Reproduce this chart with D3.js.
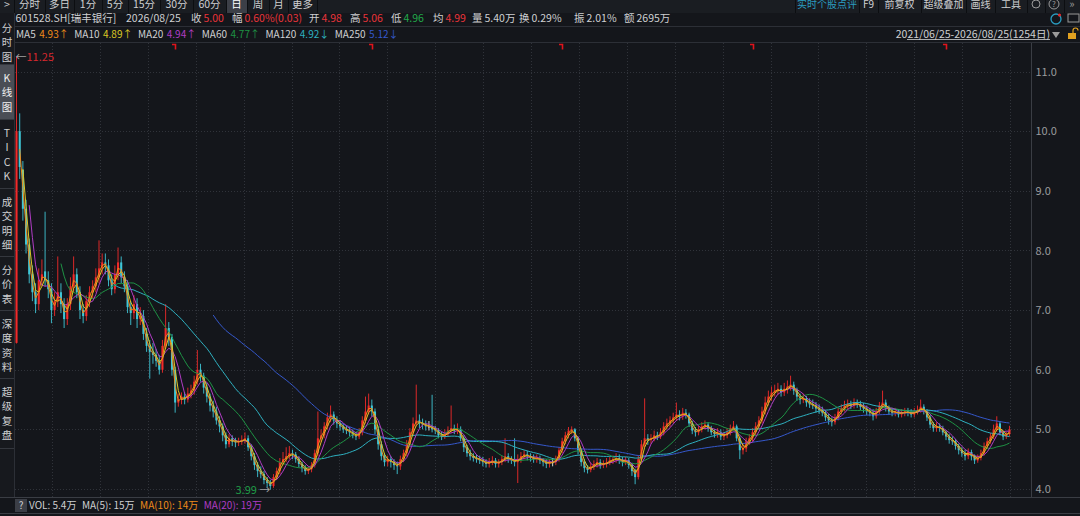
<!doctype html>
<html lang="zh">
<head>
<meta charset="utf-8">
<title>601528.SH 瑞丰银行 日K</title>
<style>
html, body { margin: 0; padding: 0; background: #14161b; }
body { width: 1080px; height: 516px; overflow: hidden; }
svg text { font-family: "Noto Sans CJK SC", "Noto Sans", sans-serif; }
</style>
</head>
<body>
<svg id="chart" width="1080" height="516"></svg>
<script src="https://d3js.org/d3.v7.min.js"></script>
<script>
// ~4 trading days per candle (2021/06/25 - 2026/08/25)
var opens = [6.45,10.0,9.35,8.7,8.1,7.6,7.3,7.1,7.5,7.65,
7.5,7.35,7.0,7.15,7.3,7.1,6.85,7.1,7.4,7.6,
7.3,7.0,6.9,7.15,7.3,7.4,7.55,7.7,7.8,7.75,
7.5,7.35,7.6,7.8,7.55,7.4,7.05,6.95,7.1,6.85,
6.9,6.6,6.4,6.3,6.25,6.15,6.0,6.4,6.7,6.55,
6.0,5.45,5.5,5.55,5.5,5.6,5.65,5.8,6.0,5.9,
5.7,5.55,5.4,5.3,5.15,5.05,4.9,4.75,4.85,4.8,
4.78,4.8,4.82,4.85,4.7,4.55,4.4,4.3,4.25,4.15,
4.1,4.05,4.2,4.3,4.45,4.5,4.55,4.6,4.58,4.5,
4.42,4.35,4.3,4.33,4.4,4.6,4.85,4.9,5.05,5.2,
5.25,5.15,5.1,5.05,5.0,4.98,4.95,4.9,4.88,4.95,
5.15,5.3,5.4,5.3,5.0,4.75,4.55,4.45,4.5,4.45,
4.4,4.38,4.5,4.6,4.75,4.95,5.1,5.15,5.1,5.08,
5.05,5.05,5.0,4.98,4.9,4.88,4.92,4.98,5.02,4.98,
5.0,4.85,4.7,4.6,4.55,4.52,4.5,4.48,4.45,4.42,
4.45,4.48,4.42,4.45,4.5,4.55,4.5,4.48,4.45,4.5,
4.55,4.58,4.55,4.52,4.5,4.52,4.48,4.45,4.42,4.45,
4.45,4.5,4.65,4.8,4.9,4.98,5.0,4.85,4.65,4.45,
4.35,4.32,4.38,4.42,4.45,4.4,4.42,4.45,4.48,4.5,
4.52,4.48,4.45,4.48,4.4,4.3,4.2,4.5,4.75,4.85,
4.82,4.85,4.9,4.88,4.95,5.05,5.1,5.15,5.2,5.25,
5.22,5.28,5.25,5.1,4.98,4.95,5.0,5.05,5.08,5.02,
4.95,4.92,4.95,4.88,4.9,4.95,5.02,5.05,4.85,4.65,
4.68,4.8,4.85,4.95,5.05,5.15,5.3,5.45,5.55,5.62,
5.65,5.68,5.62,5.68,5.72,5.75,5.65,5.55,5.5,5.52,
5.45,5.42,5.4,5.35,5.32,5.28,5.2,5.15,5.12,5.2,
5.3,5.35,5.4,5.42,5.4,5.45,5.42,5.38,5.35,5.3,
5.28,5.22,5.3,5.4,5.45,5.35,5.3,5.28,5.3,5.25,
5.28,5.3,5.28,5.25,5.3,5.32,5.38,5.3,5.2,5.08,
5.02,5.05,5.02,4.95,4.88,4.82,4.8,4.72,4.65,4.6,
4.55,4.62,4.55,4.48,4.52,4.6,4.72,4.8,4.88,5.0,
5.1,4.95,4.88,4.92];

var highs = [11.25,10.3,9.5,8.85,8.2,7.75,7.45,7.7,7.85,8.65,
7.65,7.45,7.3,7.9,7.45,7.2,7.2,7.55,7.9,7.7,
7.4,7.1,7.25,7.4,7.5,7.7,8.17,7.95,7.95,7.85,
7.6,7.75,8.05,7.9,7.65,7.5,7.15,7.25,7.2,7.05,
7.0,6.7,6.5,6.45,6.35,6.25,6.5,7.1,6.8,6.6,
6.05,5.6,5.62,5.62,5.7,5.75,5.9,6.33,6.1,5.95,
5.78,5.6,5.48,5.38,5.22,5.1,4.95,4.92,4.9,4.86,
4.86,4.9,4.95,4.9,4.75,4.6,4.45,4.38,4.3,4.2,
4.15,4.25,4.36,4.52,4.62,4.7,4.72,4.66,4.62,4.55,
4.46,4.4,4.38,4.45,4.66,5.3,5.0,5.12,5.28,5.4,
5.3,5.22,5.15,5.1,5.06,5.04,5.0,4.96,5.02,5.22,
5.55,5.6,5.5,5.35,5.05,4.8,4.6,4.56,4.55,4.5,
4.46,4.56,4.66,4.82,5.02,5.2,5.75,5.25,5.18,5.15,
5.14,5.58,5.06,5.02,4.96,5.0,5.05,5.4,5.08,5.1,
5.05,4.9,4.74,4.66,4.6,4.58,4.56,4.54,4.5,4.52,
4.55,4.52,4.5,4.56,4.85,4.6,4.55,4.85,4.58,4.62,
4.65,4.64,4.6,4.58,4.58,4.56,4.52,4.5,4.5,4.52,
4.56,4.7,4.86,4.96,5.04,5.05,5.02,4.88,4.68,4.5,
4.4,4.44,4.48,4.52,4.5,4.48,4.52,4.54,4.56,4.6,
4.58,4.54,4.54,4.52,4.44,4.34,4.56,4.82,5.52,4.92,
4.92,4.98,4.96,5.02,5.12,5.18,5.22,5.28,5.45,5.32,
5.36,5.34,5.28,5.14,5.04,5.06,5.12,5.15,5.12,5.06,
5.0,5.02,5.0,4.96,5.02,5.08,5.14,5.08,4.88,4.76,
4.86,4.92,5.02,5.12,5.22,5.38,5.55,5.65,5.72,5.75,
5.78,5.74,5.78,5.82,5.9,5.8,5.7,5.6,5.6,5.56,
5.52,5.5,5.46,5.42,5.38,5.32,5.26,5.2,5.26,5.36,
5.42,5.48,5.5,5.48,5.52,5.5,5.48,5.44,5.4,5.36,
5.34,5.36,5.46,5.65,5.5,5.4,5.36,5.36,5.34,5.34,
5.36,5.36,5.34,5.36,5.4,5.5,5.42,5.34,5.24,5.12,
5.12,5.1,5.06,4.98,4.92,4.88,4.84,4.76,4.7,4.66,
4.68,4.66,4.58,4.58,4.66,4.78,4.86,4.94,5.08,5.22,
5.14,4.98,4.96,5.06];

var lows = [6.44,9.2,8.5,7.95,7.45,7.15,6.95,7.0,7.4,7.4,
7.2,6.78,6.9,7.05,6.95,6.7,6.75,7.0,7.3,7.2,
6.85,6.78,6.82,7.05,7.2,7.3,7.45,7.6,7.6,7.4,
7.25,7.28,7.5,7.45,7.3,6.95,6.75,6.85,6.7,6.75,
6.5,6.3,5.85,6.1,6.05,5.92,5.95,6.35,6.4,5.9,
5.28,5.38,5.42,5.42,5.45,5.52,5.58,5.75,5.8,5.6,
5.45,5.3,5.2,5.08,4.95,4.8,4.68,4.7,4.72,4.7,
4.72,4.74,4.76,4.64,4.48,4.32,4.2,4.18,4.08,4.03,
3.99,4.02,4.15,4.25,4.4,4.45,4.5,4.5,4.44,4.36,
4.28,4.24,4.25,4.28,4.36,4.55,4.78,4.85,5.0,5.12,
5.08,5.02,4.98,4.94,4.92,4.88,4.85,4.82,4.84,4.9,
5.1,5.25,5.22,4.92,4.66,4.48,4.38,4.38,4.36,4.32,
4.25,4.32,4.45,4.55,4.7,4.9,5.05,5.02,5.0,4.98,
4.98,4.95,4.92,4.85,4.82,4.84,4.88,4.94,4.92,4.92,
4.8,4.62,4.54,4.48,4.46,4.44,4.42,4.38,4.36,4.36,
4.4,4.36,4.36,4.4,4.45,4.44,4.42,4.38,4.1,4.44,
4.5,4.48,4.46,4.44,4.44,4.42,4.38,4.35,4.36,4.38,
4.4,4.46,4.6,4.75,4.85,4.92,4.8,4.58,4.38,4.28,
4.26,4.28,4.32,4.36,4.34,4.35,4.36,4.4,4.42,4.44,
4.42,4.38,4.4,4.34,4.22,4.08,4.16,4.45,4.7,4.74,
4.76,4.8,4.82,4.84,4.9,5.0,5.04,5.1,5.14,5.15,
5.16,5.18,5.04,4.92,4.88,4.9,4.95,5.0,4.96,4.9,
4.86,4.86,4.82,4.82,4.85,4.9,4.98,4.8,4.5,4.58,
4.62,4.74,4.8,4.9,5.0,5.1,5.25,5.4,5.48,5.55,
5.58,5.55,5.56,5.6,5.65,5.58,5.48,5.42,5.44,5.38,
5.36,5.34,5.28,5.26,5.22,5.14,5.08,5.05,5.08,5.15,
5.25,5.3,5.34,5.34,5.35,5.36,5.32,5.28,5.24,5.22,
5.15,5.18,5.26,5.35,5.3,5.24,5.22,5.22,5.2,5.2,
5.22,5.22,5.2,5.2,5.25,5.28,5.25,5.14,5.02,4.96,
4.96,4.96,4.9,4.82,4.76,4.74,4.66,4.58,4.54,4.48,
4.5,4.48,4.42,4.44,4.48,4.56,4.68,4.76,4.84,4.96,
4.9,4.82,4.84,4.88];

var closes = [10.0,9.4,8.7,8.1,7.6,7.3,7.1,7.5,7.6,7.5,
7.35,7.0,7.15,7.3,7.1,6.85,7.1,7.4,7.6,7.3,
7.0,6.9,7.15,7.3,7.4,7.55,7.7,7.8,7.75,7.5,
7.35,7.6,7.8,7.55,7.4,7.05,6.95,7.1,6.85,6.9,
6.6,6.4,6.3,6.25,6.15,6.0,6.4,6.7,6.55,6.0,
5.45,5.5,5.55,5.5,5.6,5.65,5.8,6.0,5.9,5.7,
5.55,5.4,5.3,5.15,5.05,4.9,4.75,4.85,4.8,4.78,
4.8,4.82,4.85,4.7,4.55,4.4,4.3,4.25,4.15,4.1,
4.05,4.2,4.3,4.45,4.5,4.55,4.6,4.58,4.5,4.42,
4.35,4.3,4.33,4.4,4.6,4.85,4.9,5.05,5.2,5.25,
5.15,5.1,5.05,5.0,4.98,4.95,4.9,4.88,4.95,5.15,
5.3,5.4,5.3,5.0,4.75,4.55,4.45,4.5,4.45,4.4,
4.38,4.5,4.6,4.75,4.95,5.1,5.15,5.1,5.08,5.05,
5.05,5.0,4.98,4.9,4.88,4.92,4.98,5.02,4.98,5.0,
4.85,4.7,4.6,4.55,4.52,4.5,4.48,4.45,4.42,4.45,
4.48,4.42,4.45,4.5,4.55,4.5,4.48,4.45,4.5,4.55,
4.58,4.55,4.52,4.5,4.52,4.48,4.45,4.42,4.45,4.45,
4.5,4.65,4.8,4.9,4.98,5.0,4.85,4.65,4.45,4.35,
4.32,4.38,4.42,4.45,4.4,4.42,4.45,4.48,4.5,4.52,
4.48,4.45,4.48,4.4,4.3,4.2,4.5,4.75,4.85,4.82,
4.85,4.9,4.88,4.95,5.05,5.1,5.15,5.2,5.25,5.22,
5.28,5.25,5.1,4.98,4.95,5.0,5.05,5.08,5.02,4.95,
4.92,4.95,4.88,4.9,4.95,5.02,5.05,4.85,4.65,4.68,
4.8,4.85,4.95,5.05,5.15,5.3,5.45,5.55,5.62,5.65,
5.68,5.62,5.68,5.72,5.75,5.65,5.55,5.5,5.52,5.45,
5.42,5.4,5.35,5.32,5.28,5.2,5.15,5.12,5.2,5.3,
5.35,5.4,5.42,5.4,5.45,5.42,5.38,5.35,5.3,5.28,
5.22,5.3,5.4,5.45,5.35,5.3,5.28,5.3,5.25,5.28,
5.3,5.28,5.25,5.3,5.32,5.38,5.3,5.2,5.08,5.02,
5.05,5.02,4.95,4.88,4.82,4.8,4.72,4.65,4.6,4.55,
4.62,4.55,4.48,4.52,4.6,4.72,4.8,4.88,5.0,5.1,
4.95,4.88,4.92,5.0];

// moving averages: label, window in candles (4 days each)
var maNames = ["MA5", "MA10", "MA20", "MA60", "MA120", "MA250"];
var maWindows = [2, 3, 5, 15, 30, 63];
var maHeadValues = ["4.93", "4.89", "4.94", "4.77", "4.92", "5.12"];
var maHeadArrows = ["↑", "↑", "↑", "↑", "↓", "↓"];
var maColors = ["#ee8a1a", "#dcc624", "#b03cc4", "#1e9244", "#2eb0c0", "#3558cc"];

var priceTicks = [4, 5, 6, 7, 8, 9, 10, 11];
var eventMarks = [50, 112, 172, 232, 293];

var periodButtons = ["分时", "多日", "1分", "5分", "15分", "30分", "60分", "日", "周", "月", "更多"];
var toolButtons = ["实时个股点评", "F9", "前复权", "超级叠加", "画线", "工具"];
var sideTabs = ["分时图", "K线图", "TICK", "成交明细", "分价表", "深度资料", "超级复盘"];

var quoteLabels = ["收", "幅", "开", "高", "低", "均", "量", "换", "振", "额"];
var quoteValues = ["5.00", "0.60%(0.03)", "4.98", "5.06", "4.96", "4.99", "5.40万", "0.29%", "2.01%", "2695万"];
var quoteTone = ["up", "up", "up", "up", "down", "up", "", "", "", ""];

var volNames = ["VOL: 5.4万", "MA(5): 15万", "MA(10): 14万", "MA(20): 19万"];

var UP = "#f22a2a", DOWN = "#3fc6d6", TXT = "#cfd0d2", RED_T = "#e8343a", GREEN_T = "#22a84a";

var svg = d3.select("#chart");
svg.append("rect").attr("width", 1080).attr("height", 516).attr("fill", "#14161b");

var n = closes.length;
var x = d3.scaleBand().domain(d3.range(n)).range([15.5, 1010.5]).paddingInner(0.35);
var cx = function(i) { return x(i) + x.bandwidth() / 2; };
var y = d3.scaleLinear().domain([4, 11]).range([489, 71.6]);

// lay texts one after another, each starting after the previous one's width
function flow(g, items, x0, yb) {
  var pos = x0;
  items.forEach(function(it) {
    var t = g.append("text").attr("x", pos).attr("y", yb).attr("fill", it.c).text(it.t);
    pos += t.node().getComputedTextLength() + it.gap;
  });
}

// ---- grid ----
var grid = svg.append("g");
grid.selectAll("line.h").data(priceTicks).join("line")
    .attr("x1", 15).attr("x2", 1031)
    .attr("y1", function(d) { return Math.round(y(d)) + 0.5; })
    .attr("y2", function(d) { return Math.round(y(d)) + 0.5; })
    .attr("stroke", "#30333a").attr("stroke-dasharray", "1,2");
grid.selectAll("line.v").data(d3.range(52, 1028, 47.9)).join("line")
    .attr("x1", function(d) { return Math.round(d) + 0.5; })
    .attr("x2", function(d) { return Math.round(d) + 0.5; })
    .attr("y1", 43).attr("y2", 497)
    .attr("stroke", "#30333a").attr("stroke-dasharray", "1,2");

// ---- candles ----
svg.append("clipPath").attr("id", "plot")
  .append("rect").attr("x", 14).attr("y", 43).attr("width", 1017).attr("height", 454);
var plot = svg.append("g").attr("clip-path", "url(#plot)");

function tone(i) {
  if (closes[i] > opens[i]) return UP;
  if (closes[i] < opens[i]) return DOWN;
  return "#e6e6e6";
}
var candles = plot.append("g").selectAll("g").data(d3.range(n)).join("g");
candles.append("line")
    .attr("x1", cx).attr("x2", cx)
    .attr("y1", function(i) { return y(highs[i]); })
    .attr("y2", function(i) { return y(lows[i]); })
    .attr("stroke", tone).attr("stroke-width", 0.9);
candles.append("rect")
    .attr("x", function(i) { return x(i); })
    .attr("width", x.bandwidth())
    .attr("y", function(i) { return y(Math.max(opens[i], closes[i])); })
    .attr("height", function(i) { return Math.max(1, Math.abs(y(opens[i]) - y(closes[i]))); })
    .attr("fill", tone);

// ---- moving averages ----
function sma(arr, w) {
  return arr.map(function(_, i) { return i < w - 1 ? null : d3.mean(arr.slice(i - w + 1, i + 1)); });
}
var maLine = d3.line()
    .defined(function(d) { return d != null; })
    .x(function(d, i) { return cx(i); })
    .y(function(d) { return y(d); });
for (var j = maWindows.length - 1; j >= 0; j--) {
  plot.append("path").datum(sma(closes, maWindows[j]))
      .attr("d", maLine).attr("fill", "none")
      .attr("stroke", maColors[j]).attr("stroke-width", 1);
}

// ---- event markers at top ----
svg.append("g").selectAll("path").data(eventMarks).join("path")
    .attr("d", function(i) { var c = Math.round(cx(i)) + 0.5; return "M" + (c - 3.5) + ",44.5H" + c + "V49.5"; })
    .attr("fill", "none").attr("stroke", "#e0141c").attr("stroke-width", 1.6);

// ---- max / min labels ----
var iMax = d3.maxIndex(highs), iMin = d3.minIndex(lows);
var tMax = svg.append("text").attr("x", cx(iMax) - 1).attr("y", y(highs[iMax]) + 4)
    .attr("font-size", 11);
tMax.append("tspan").attr("fill", "#a0a0a0").text("←");
tMax.append("tspan").attr("fill", "#d8282e").text(d3.format(".2f")(highs[iMax]));
var tMin = svg.append("text").attr("x", cx(iMin)).attr("y", y(lows[iMin]) + 4)
    .attr("font-size", 11).attr("text-anchor", "end");
tMin.append("tspan").attr("fill", "#1f9a46").text(d3.format(".2f")(lows[iMin]));
tMin.append("tspan").attr("fill", "#a0a0a0").text(" →");

// ---- price axis ----
svg.append("line").attr("x1", 1031.5).attr("x2", 1031.5).attr("y1", 42).attr("y2", 497)
    .attr("stroke", "#3a3d44");
var axis = svg.append("g").attr("transform", "translate(1031.5,0)")
    .call(d3.axisRight(y).tickValues(priceTicks).tickFormat(d3.format(".1f")).tickSize(0).tickPadding(4));
axis.select(".domain").remove();
axis.selectAll("text").attr("fill", "#9a9b9e").attr("font-size", 11)
    .style("font-family", "'Noto Sans CJK SC', 'Noto Sans', sans-serif");

// ---- top toolbar (its labels sit cut at the top edge, as in the source) ----
svg.append("rect").attr("x", 0).attr("y", 0).attr("width", 1080).attr("height", 13).attr("fill", "#1a1d22");
var btnEdges = [14, 45, 74, 102, 128, 160, 193, 226, 247, 269, 288, 317];
svg.append("rect").attr("x", btnEdges[7]).attr("y", 0).attr("width", btnEdges[8] - btnEdges[7])
    .attr("height", 13).attr("fill", "#3c3f47");
svg.append("g").selectAll("line").data(btnEdges).join("line")
    .attr("x1", function(d) { return d + 0.5; }).attr("x2", function(d) { return d + 0.5; })
    .attr("y1", 0).attr("y2", 13).attr("stroke", "#0c0e11");
svg.append("text").attr("x", 4).attr("y", 8).attr("fill", TXT).attr("font-size", 10.5).text(">");
svg.append("g").selectAll("text").data(periodButtons).join("text")
    .attr("x", function(d, i) { return (btnEdges[i] + btnEdges[i + 1]) / 2; })
    .attr("y", 8).attr("text-anchor", "middle").attr("font-size", 10.5)
    .attr("fill", function(d, i) { return i === 7 ? "#ffffff" : TXT; })
    .text(function(d) { return d; });

var toolEdges = [795, 859, 878, 921, 966, 995, 1027];
svg.append("g").selectAll("line").data(toolEdges.concat([1045, 1064])).join("line")
    .attr("x1", function(d) { return d + 0.5; }).attr("x2", function(d) { return d + 0.5; })
    .attr("y1", 0).attr("y2", 13).attr("stroke", "#0c0e11");
svg.append("g").selectAll("text").data(toolButtons).join("text")
    .attr("x", function(d, i) { return (toolEdges[i] + toolEdges[i + 1]) / 2; })
    .attr("y", 8).attr("text-anchor", "middle").attr("font-size", 10)
    .attr("fill", function(d, i) { return i === 0 ? "#2a9cc0" : TXT; })
    .text(function(d) { return d; });
svg.append("circle").attr("cx", 1036).attr("cy", 4).attr("r", 4).attr("fill", "none").attr("stroke", "#9a9a9a");
svg.append("circle").attr("cx", 1054).attr("cy", 4).attr("r", 5).attr("fill", "none").attr("stroke", "#9a9a9a");
svg.append("text").attr("x", 1054).attr("y", 7).attr("text-anchor", "middle").attr("font-size", 8).attr("fill", "#9a9a9a").text("?");
svg.append("text").attr("x", 1072).attr("y", 8).attr("text-anchor", "middle").attr("font-size", 11).attr("fill", "#9a9a9a").text("»");

// ---- separators ----
svg.append("line").attr("x1", 14).attr("x2", 1080).attr("y1", 26.5).attr("y2", 26.5).attr("stroke", "#2c2f36");
svg.append("line").attr("x1", 14).attr("x2", 1080).attr("y1", 42.5).attr("y2", 42.5).attr("stroke", "#2c2f36");

// ---- quote row ----
var row2 = svg.append("g").attr("font-size", 10.5);
row2.append("text").attr("x", 15.5).attr("y", 21.5).attr("fill", TXT).text("601528.SH[瑞丰银行]");
row2.append("text").attr("x", 126).attr("y", 21.5).attr("fill", TXT).text("2026/08/25");
var quoteX = [191, 232, 309, 350, 391, 433, 472, 519, 574, 624];
row2.selectAll("text.ql").data(quoteLabels).join("text").attr("class", "ql")
    .attr("x", function(d, i) { return quoteX[i]; }).attr("y", 21.5).attr("fill", TXT)
    .text(function(d) { return d; });
row2.selectAll("text.qv").data(quoteValues).join("text").attr("class", "qv")
    .attr("x", function(d, i) { return quoteX[i] + 12.5; }).attr("y", 21.5)
    .attr("fill", function(d, i) { return quoteTone[i] === "up" ? RED_T : quoteTone[i] === "down" ? GREEN_T : TXT; })
    .text(function(d) { return d; });
svg.append("circle").attr("cx", 1056).attr("cy", 19).attr("r", 5).attr("fill", "none").attr("stroke", "#2a9cc0").attr("stroke-width", 1.3);
svg.append("circle").attr("cx", 1059.5).attr("cy", 15).attr("r", 1.6).attr("fill", "#e02828");
svg.append("rect").attr("x", 1068).attr("y", 14).attr("width", 11).attr("height", 8).attr("fill", "none").attr("stroke", "#9a9a9a");

// ---- MA legend row ----
var row3 = svg.append("g").attr("font-size", 10);
var maItems = [];
maNames.forEach(function(nm, i) {
  maItems.push({ t: nm, c: TXT, gap: 3.5 });
  maItems.push({ t: maHeadValues[i] + maHeadArrows[i], c: maColors[i], gap: 5.5 });
});
flow(row3, maItems, 16, 37.5);
row3.append("text").attr("x", 1050).attr("y", 37.5).attr("text-anchor", "end").attr("fill", TXT)
    .attr("font-size", 10.5).text("2021/06/25-2026/08/25(1254日)");
svg.append("line").attr("x1", 907).attr("x2", 1050).attr("y1", 39.5).attr("y2", 39.5).attr("stroke", TXT).attr("stroke-width", 0.8);
svg.append("path").attr("d", "M1052,32H1060L1056,38Z").attr("fill", "#9a9a9a");
svg.append("rect").attr("x", 1068).attr("y", 33).attr("width", 8).attr("height", 6).attr("fill", "#e0a020");
svg.append("path").attr("d", "M1073,33V30.5A2.5,2.5 0 0 1 1078,30.5").attr("fill", "none").attr("stroke", "#e0a020").attr("stroke-width", 1.2);

// ---- left side tabs ----
svg.append("rect").attr("x", 0).attr("y", 13).attr("width", 14).attr("height", 484).attr("fill", "#17191e");
svg.append("line").attr("x1", 14.5).attr("x2", 14.5).attr("y1", 13).attr("y2", 497).attr("stroke", "#2c2f36");
var tabEdges = [14, 64, 119, 188, 256, 310, 378, 448];
svg.append("rect").attr("x", 0).attr("y", tabEdges[1] + 1).attr("width", 14).attr("height", tabEdges[2] - tabEdges[1] - 1)
    .attr("fill", "#4a4d55");
svg.append("g").selectAll("line").data(tabEdges.slice(1)).join("line")
    .attr("x1", 0).attr("x2", 14).attr("y1", function(d) { return d + 0.5; }).attr("y2", function(d) { return d + 0.5; })
    .attr("stroke", "#34373e");
sideTabs.forEach(function(t, k) {
  svg.append("g").selectAll("text").data(Array.from(t)).join("text")
      .attr("x", 7).attr("y", function(d, j) { return tabEdges[k] + 13.5 + j * 14.6 + 4; })
      .attr("text-anchor", "middle").attr("font-size", 10.5)
      .attr("fill", k === 1 ? "#f0f0f0" : TXT)
      .text(function(d) { return d; });
});

// ---- volume legend row ----
svg.append("line").attr("x1", 0).attr("x2", 1080).attr("y1", 497.5).attr("y2", 497.5).attr("stroke", "#3a3d44");
svg.append("line").attr("x1", 0).attr("x2", 1080).attr("y1", 513.5).attr("y2", 513.5).attr("stroke", "#3a3d44");
svg.append("rect").attr("x", 15).attr("y", 499).attr("width", 12).attr("height", 13).attr("fill", "#3b3e46");
svg.append("text").attr("x", 21).attr("y", 509).attr("text-anchor", "middle").attr("font-size", 10).attr("fill", TXT).text("?");
var volColors = [TXT, TXT, maColors[0], maColors[2]];
var volRow = svg.append("g").attr("font-size", 10);
flow(volRow, volNames.map(function(t, i) { return { t: t, c: volColors[i], gap: 5.5 }; }), 29, 509);
</script>
</body>
</html>
